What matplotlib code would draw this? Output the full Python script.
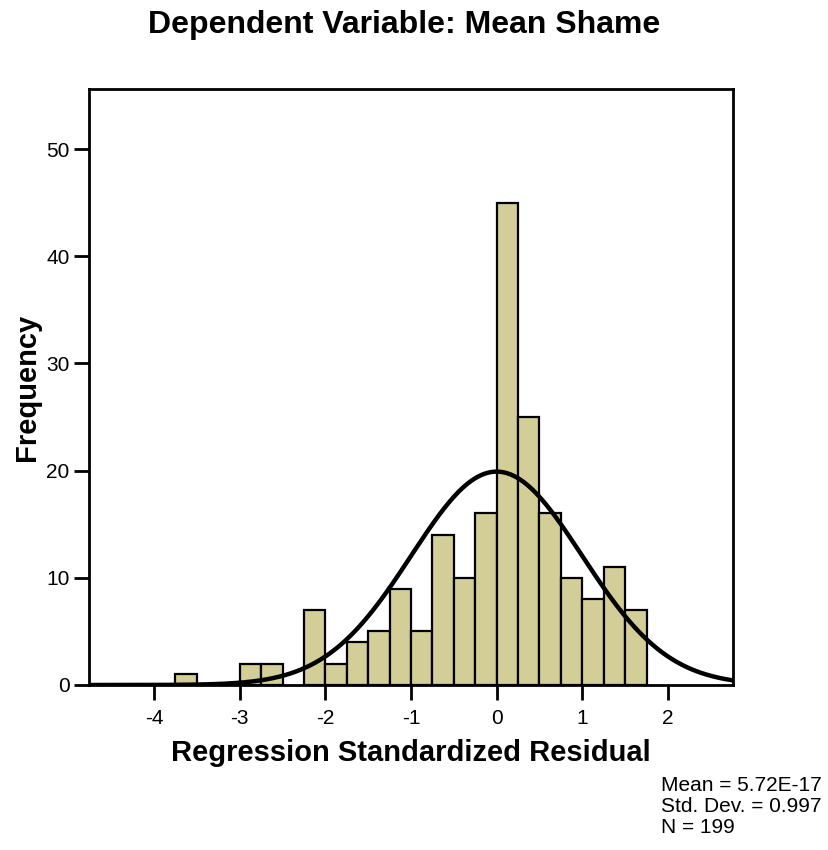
import numpy as np
import matplotlib
matplotlib.use("Agg")
import matplotlib.pyplot as plt

plt.rcParams["font.family"] = ["Liberation Sans", "DejaVu Sans"]

# Histogram data (bin width 0.25)
BIN_WIDTH = 0.25
bin_lefts = [-3.75, -3.0, -2.75, -2.25, -2.0, -1.75, -1.5, -1.25, -1.0,
             -0.75, -0.5, -0.25, 0.0, 0.25, 0.5, 0.75, 1.0, 1.25, 1.5]
counts = [1, 2, 2, 7, 2, 4, 5, 9, 5, 14, 10, 16, 45, 25, 16, 10, 8, 11, 7]

mean = 5.72e-17
std = 0.997
n = 199

xticks = [-4, -3, -2, -1, 0, 1, 2]
yticks = [0, 10, 20, 30, 40, 50]
X_MIN, X_MAX = -4.76, 2.76

W, H = 829, 850
fig = plt.figure(figsize=(W / 100, H / 100), dpi=100)
ax = fig.add_axes([89 / W, 1 - 685 / H, (733 - 89) / W, (685 - 89) / H])

ax.bar(bin_lefts, counts, width=BIN_WIDTH, align="edge",
       color="#D3CE98", edgecolor="black", linewidth=1.6, zorder=2)

# normal curve overlay
xs = np.linspace(X_MIN, X_MAX, 400)
pdf = np.exp(-0.5 * ((xs - mean) / std) ** 2) / (std * np.sqrt(2 * np.pi))
ax.plot(xs, n * BIN_WIDTH * pdf, color="black", lw=3.2, zorder=3)

ax.set_xlim(X_MIN, X_MAX)
ax.set_ylim(0, 55.6)
ax.set_xticks(xticks)
ax.set_xticklabels([str(t) for t in xticks])
ax.set_yticks(yticks)
ax.tick_params(axis="both", direction="out", length=11, width=2,
               labelsize=15)
ax.tick_params(axis="x", pad=6)
ax.tick_params(axis="y", pad=3)
for s in ax.spines.values():
    s.set_linewidth(2)

ax.set_xlabel("Regression Standardized Residual", fontsize=21,
              fontweight="bold", labelpad=8)
ax.set_ylabel("Frequency", fontsize=21, fontweight="bold", labelpad=4)

fig.text(404 / W, 1 - 25 / H, "Dependent Variable: Mean Shame", ha="center",
         va="center", fontsize=23, fontweight="bold")

fig.text(661 / W, 1 - 776 / H,
         "Mean = 5.72E-17\nStd. Dev. = 0.997\nN = 199",
         ha="left", va="top", fontsize=15, linespacing=1.12)

fig.savefig("out.png", dpi=100)
